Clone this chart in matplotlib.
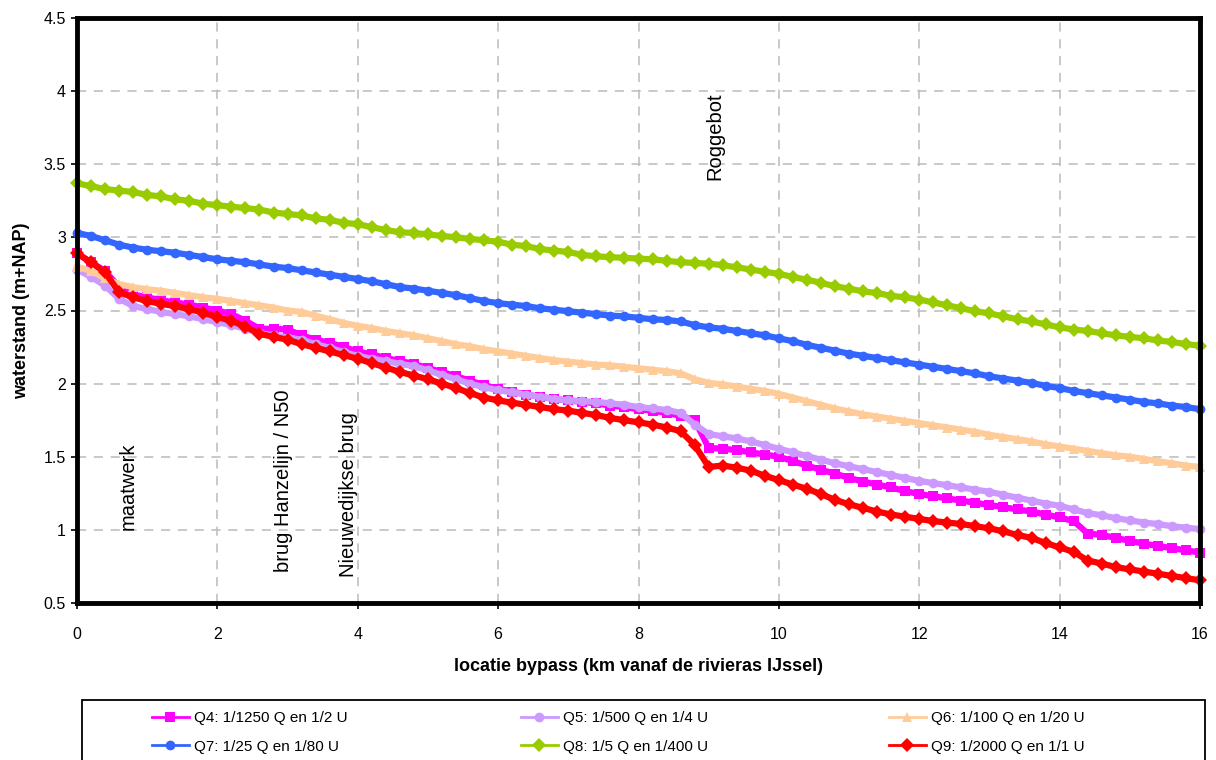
import matplotlib
matplotlib.use("Agg")
import matplotlib.pyplot as plt
from matplotlib.lines import Line2D
from matplotlib.patches import Rectangle

plt.rcParams["font.family"] = ["Liberation Sans", "DejaVu Sans"]

# locatie (km vanaf de rivieras IJssel)
KM = [0.0, 0.2, 0.4, 0.6, 0.8, 1.0, 1.2, 1.4, 1.6, 1.8,
      2.0, 2.2, 2.4, 2.6, 2.8, 3.0, 3.2, 3.4, 3.6, 3.8,
      4.0, 4.2, 4.4, 4.6, 4.8, 5.0, 5.2, 5.4, 5.6, 5.8,
      6.0, 6.2, 6.4, 6.6, 6.8, 7.0, 7.2, 7.4, 7.6, 7.8,
      8.0, 8.2, 8.4, 8.6, 8.8, 9.0, 9.2, 9.4, 9.6, 9.8,
      10.0, 10.2, 10.4, 10.6, 10.8, 11.0, 11.2, 11.4, 11.6, 11.8,
      12.0, 12.2, 12.4, 12.6, 12.8, 13.0, 13.2, 13.4, 13.6, 13.8,
      14.0, 14.2, 14.4, 14.6, 14.8, 15.0, 15.2, 15.4, 15.6, 15.8,
      16.0]

Q4 = [2.89, 2.83, 2.77, 2.66, 2.61, 2.59, 2.57, 2.555, 2.54, 2.52,
      2.50, 2.475, 2.43, 2.375, 2.375, 2.37, 2.33, 2.30, 2.28, 2.25,
      2.22, 2.20, 2.175, 2.155, 2.135, 2.105, 2.08, 2.05, 2.02, 1.99,
      1.965, 1.945, 1.925, 1.91, 1.895, 1.885, 1.875, 1.865, 1.85, 1.84,
      1.825, 1.815, 1.80, 1.78, 1.75, 1.56, 1.555, 1.545, 1.53, 1.515,
      1.50, 1.47, 1.44, 1.41, 1.385, 1.355, 1.33, 1.31, 1.29, 1.265,
      1.245, 1.23, 1.215, 1.20, 1.185, 1.17, 1.155, 1.14, 1.125, 1.105,
      1.085, 1.06, 0.975, 0.965, 0.945, 0.925, 0.905, 0.89, 0.875, 0.86,
      0.845]

Q5 = [2.78, 2.73, 2.67, 2.58, 2.53, 2.51, 2.49, 2.475, 2.46, 2.44,
      2.42, 2.40, 2.375, 2.345, 2.33, 2.315, 2.30, 2.27, 2.245, 2.215,
      2.19, 2.17, 2.155, 2.135, 2.12, 2.09, 2.06, 2.03, 2.00, 1.975,
      1.955, 1.94, 1.925, 1.91, 1.895, 1.885, 1.88, 1.875, 1.865, 1.855,
      1.84, 1.83, 1.82, 1.80, 1.72, 1.655, 1.64, 1.625, 1.605, 1.58,
      1.555, 1.53, 1.505, 1.48, 1.455, 1.435, 1.415, 1.395, 1.375, 1.355,
      1.335, 1.32, 1.305, 1.29, 1.275, 1.26, 1.24, 1.22, 1.20, 1.18,
      1.165, 1.14, 1.115, 1.10, 1.08, 1.065, 1.05, 1.04, 1.025, 1.015,
      1.005]

Q6 = [2.80, 2.77, 2.72, 2.68, 2.66, 2.645, 2.635, 2.62, 2.605, 2.59,
      2.58, 2.565, 2.55, 2.535, 2.52, 2.50, 2.49, 2.465, 2.44, 2.415,
      2.395, 2.38, 2.36, 2.345, 2.33, 2.31, 2.29, 2.27, 2.255, 2.235,
      2.22, 2.205, 2.19, 2.175, 2.16, 2.15, 2.14, 2.13, 2.125, 2.115,
      2.105, 2.095, 2.085, 2.07, 2.03, 2.005, 1.995, 1.98, 1.965, 1.95,
      1.93, 1.905, 1.88, 1.855, 1.83, 1.81, 1.79, 1.775, 1.76, 1.745,
      1.73, 1.715, 1.70, 1.685, 1.67, 1.65, 1.635, 1.62, 1.605, 1.585,
      1.57, 1.555, 1.54, 1.525, 1.51, 1.50, 1.485, 1.47, 1.455, 1.44,
      1.43]

Q7 = [3.03, 3.01, 2.98, 2.95, 2.93, 2.915, 2.905, 2.895, 2.88, 2.865,
      2.85, 2.84, 2.83, 2.815, 2.80, 2.79, 2.775, 2.76, 2.745, 2.73,
      2.715, 2.70, 2.68, 2.66, 2.65, 2.635, 2.62, 2.605, 2.585, 2.565,
      2.55, 2.54, 2.53, 2.515, 2.505, 2.495, 2.485, 2.475, 2.465, 2.46,
      2.45, 2.44, 2.435, 2.425, 2.40, 2.385, 2.375, 2.36, 2.345, 2.33,
      2.31, 2.29, 2.265, 2.245, 2.225, 2.205, 2.19, 2.175, 2.16, 2.145,
      2.13, 2.115, 2.10, 2.085, 2.07, 2.05, 2.035, 2.02, 2.005, 1.985,
      1.97, 1.95, 1.935, 1.92, 1.905, 1.89, 1.875, 1.865, 1.85, 1.84,
      1.825]

Q8 = [3.37, 3.35, 3.33, 3.32, 3.31, 3.29, 3.28, 3.26, 3.25, 3.23,
      3.22, 3.21, 3.20, 3.19, 3.17, 3.16, 3.15, 3.13, 3.12, 3.10,
      3.09, 3.07, 3.05, 3.035, 3.03, 3.02, 3.01, 3.00, 2.99, 2.98,
      2.97, 2.95, 2.94, 2.92, 2.91, 2.90, 2.88, 2.87, 2.865, 2.86,
      2.855, 2.85, 2.84, 2.83, 2.825, 2.82, 2.81, 2.795, 2.78, 2.765,
      2.75, 2.73, 2.71, 2.69, 2.665, 2.65, 2.63, 2.62, 2.60, 2.59,
      2.575, 2.555, 2.535, 2.515, 2.495, 2.48, 2.46, 2.44, 2.425, 2.405,
      2.385, 2.37, 2.36, 2.345, 2.33, 2.32, 2.31, 2.295, 2.285, 2.27,
      2.26]

Q9 = [2.89, 2.83, 2.76, 2.625, 2.59, 2.565, 2.545, 2.53, 2.51, 2.485,
      2.455, 2.43, 2.39, 2.34, 2.32, 2.30, 2.27, 2.245, 2.22, 2.195,
      2.17, 2.14, 2.11, 2.08, 2.055, 2.03, 2.00, 1.97, 1.935, 1.905,
      1.885, 1.87, 1.855, 1.84, 1.825, 1.815, 1.80, 1.785, 1.765, 1.75,
      1.735, 1.72, 1.70, 1.675, 1.58, 1.43, 1.44, 1.425, 1.405, 1.37,
      1.34, 1.31, 1.28, 1.245, 1.205, 1.175, 1.15, 1.125, 1.105, 1.09,
      1.075, 1.06, 1.05, 1.04, 1.025, 1.01, 0.99, 0.965, 0.945, 0.91,
      0.88, 0.85, 0.79, 0.77, 0.745, 0.73, 0.715, 0.70, 0.685, 0.67,
      0.655]

SERIES = [
    ("Q4: 1/1250 Q en 1/2 U", Q4, "#FF00FF", "s"),
    ("Q5: 1/500 Q en 1/4 U", Q5, "#CC99FF", "o"),
    ("Q6: 1/100 Q en 1/20 U", Q6, "#FFCC99", "^"),
    ("Q7: 1/25 Q en 1/80 U", Q7, "#3366FF", "o"),
    ("Q8: 1/5 Q en 1/400 U", Q8, "#99CC00", "D"),
    ("Q9: 1/2000 Q en 1/1 U", Q9, "#FF0000", "D"),
]

# locaties van kunstwerken langs de bypass
LABELS = ["maatwerk", "brug Hanzelijn / N50", "Nieuwedijkse brug", "Roggebot"]
LABEL_KM = [0.73, 2.94, 3.87, 9.09]
LABEL_Y = [1.0, 0.715, 0.675, 3.39]

W, H = 1216, 760
fig = plt.figure(figsize=(W / 100, H / 100), dpi=100)
ax = fig.add_axes([77 / W, 1 - 603 / H, 1123 / W, 585 / H])

handles = []
for name, vals, color, marker in SERIES:
    ax.plot(KM, vals, color=color, marker=marker, markersize=7,
            markeredgewidth=0, linewidth=4.5, clip_on=False)
    handles.append(Line2D([], [], color=color, marker=marker, markersize=7,
                          markeredgewidth=0, linewidth=2, label=name))

for txt, xk, yk in zip(LABELS, LABEL_KM, LABEL_Y):
    ax.text(xk, yk, txt, rotation=90, ha="center", va="bottom", fontsize=14.5)

ax.set_xlim(0, 16)
ax.set_ylim(0.5, 4.5)
ax.set_xticks(range(0, 17, 2))
ax.set_yticks([0.5, 1, 1.5, 2, 2.5, 3, 3.5, 4, 4.5])
ax.set_yticklabels(["0.5", "1", "1.5", "2", "2.5", "3", "3.5", "4", "4.5"])
ax.tick_params(labelsize=11.5, direction="out", length=4, width=1.2)
ax.tick_params(axis="x", pad=13)
ax.tick_params(axis="y", pad=4)
ax.grid(True, color="#BBBBBB", linestyle=(0, (6, 5)), linewidth=1.1)
ax.set_axisbelow(True)
for sp in ax.spines.values():
    sp.set_linewidth(3.5)
    sp.set_color("black")

ax.set_xlabel("locatie bypass (km vanaf de rivieras IJssel)",
              fontsize=13, fontweight="bold", labelpad=12)
ax.set_ylabel("waterstand (m+NAP)", fontsize=13, fontweight="bold", labelpad=10)

# legend box, then three columns filled row by row
fig.patches.append(Rectangle((82 / W, -0.05), 1123 / W, 0.05 + (H - 700) / H,
                             transform=fig.transFigure, fill=False,
                             edgecolor="black", linewidth=1.3))
col_x = [152, 521, 889]
for i, cx in enumerate(col_x):
    fig.legend(handles=[handles[i], handles[i + 3]], loc="upper left",
               bbox_to_anchor=(cx / W, 1 - 711 / H), frameon=False,
               fontsize=11, handlelength=2.4, handletextpad=0.35,
               borderpad=0, borderaxespad=0, labelspacing=0.95)

fig.savefig("out.png", dpi=100)
